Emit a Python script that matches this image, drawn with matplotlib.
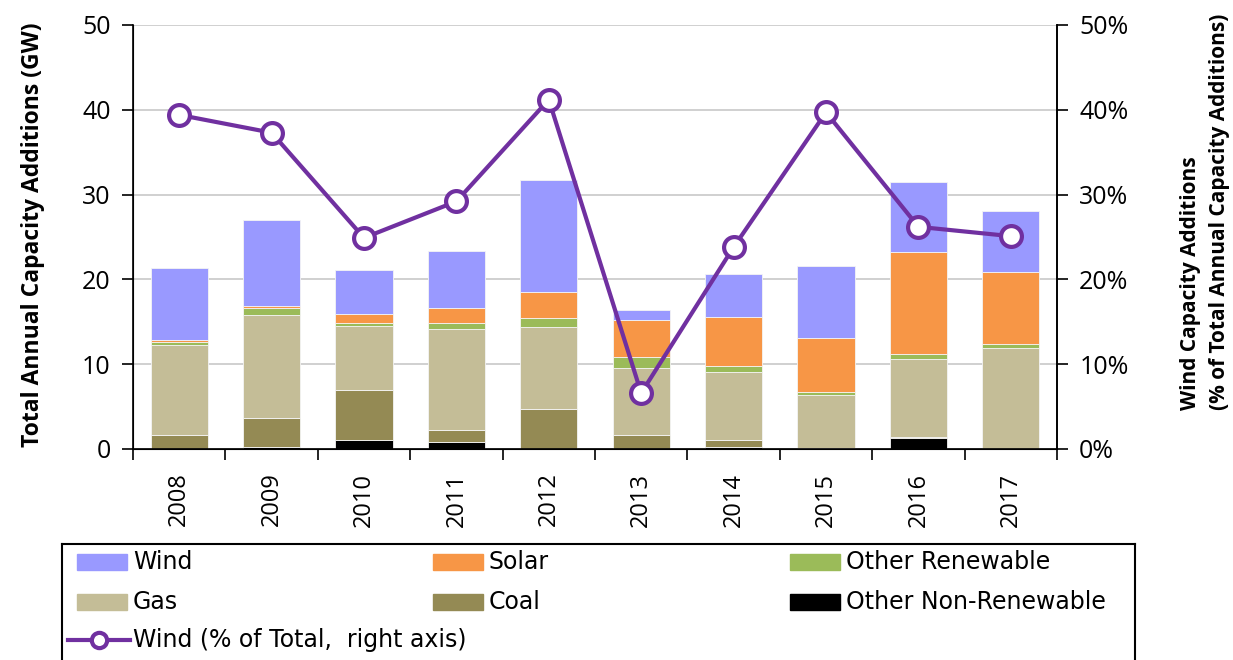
import matplotlib
matplotlib.use("Agg")
import matplotlib.pyplot as plt
import numpy as np
from matplotlib.patches import Rectangle
from matplotlib.lines import Line2D
from matplotlib.ticker import PercentFormatter

years = ["2008", "2009", "2010", "2011", "2012", "2013", "2014", "2015", "2016", "2017"]

# capacity additions, GW (stacked bottom to top)
other_nonrenew = [0.0, 0.2, 1.1, 0.8, 0.0, 0.0, 0.2, 0.0, 1.3, 0.0]
coal = [1.7, 3.5, 5.8, 1.4, 4.7, 1.7, 0.9, 0.1, 0.1, 0.0]
gas = [10.6, 12.1, 7.6, 12.0, 9.7, 7.8, 8.0, 6.3, 9.2, 11.9]
other_renew = [0.3, 0.8, 0.4, 0.7, 1.1, 1.4, 0.7, 0.3, 0.6, 0.5]
solar = [0.2, 0.3, 1.0, 1.7, 3.0, 4.3, 5.8, 6.4, 12.0, 8.5]
wind = [8.5, 10.1, 5.2, 6.8, 13.2, 1.2, 5.0, 8.5, 8.3, 7.2]

# wind share of total additions, %
wind_share = [39.4, 37.3, 24.9, 29.2, 41.2, 6.6, 23.8, 39.7, 26.2, 25.1]

series = [
    ("Other Non-Renewable", other_nonrenew, "#000000"),
    ("Coal", coal, "#948A54"),
    ("Gas", gas, "#C4BD97"),
    ("Other Renewable", other_renew, "#9BBB59"),
    ("Solar", solar, "#F79646"),
    ("Wind", wind, "#9999FF"),
]
line_color = "#7030A0"

plt.rcParams["font.family"] = ["Open Sans", "DejaVu Sans"]

fig = plt.figure(figsize=(12.33, 6.6), dpi=100)
ax = fig.add_axes([133 / 1233, 1 - 449 / 660, (1057 - 133) / 1233, (449 - 25) / 660])

x = np.arange(len(years))
bottom = np.zeros(len(years))
for name, vals, col in series:
    ax.bar(x, vals, 0.62, bottom=bottom, color=col, edgecolor="#f4f4f4",
           linewidth=0.6, zorder=2)
    bottom += np.array(vals)

ax.set_ylim(0, 50)
ax.set_xlim(-0.5, len(years) - 0.5)
ax.set_yticks(range(0, 51, 10))
ax.yaxis.grid(True, color="#c8c8c8", linewidth=1.2, zorder=0)
ax.set_axisbelow(True)
ax.set_xticks(x)
ax.set_xticklabels(years, rotation=90, fontsize=17)
ax.set_xticks(np.arange(-0.5, len(years)), minor=True)
ax.tick_params(axis="x", which="major", length=0, pad=17)
ax.tick_params(axis="x", which="minor", length=8, width=1.2, direction="out")
ax.tick_params(axis="y", length=8, width=1.2, labelsize=18, pad=8)
ax.spines["top"].set_visible(False)
for s in ["left", "bottom", "right"]:
    ax.spines[s].set_linewidth(1.2)
ax.set_ylabel("Total Annual Capacity Additions (GW)", fontsize=16.5,
              fontweight="bold")
ax.yaxis.set_label_coords(-0.095, 0.505)

ax2 = ax.twinx()
ax2.plot(x, wind_share, color=line_color, linewidth=3, marker="o",
         markersize=15, markerfacecolor="white", markeredgecolor=line_color,
         markeredgewidth=3, zorder=5)
ax2.set_ylim(0, 50)
ax2.set_yticks(range(0, 51, 10))
ax2.yaxis.set_major_formatter(PercentFormatter(decimals=0))
ax2.tick_params(axis="y", length=8, width=1.2, labelsize=18, pad=8)
ax2.spines["top"].set_visible(False)
ax2.spines["right"].set_linewidth(1.2)
fig.text(1205 / 1233, 1 - 212 / 660,
         "Wind Capacity Additions\n(% of Total Annual Capacity Additions)",
         rotation=90, ha="center", va="center", multialignment="left",
         fontsize=15, fontweight="bold", linespacing=1.45)

# legend box
lax = fig.add_axes([62 / 1233, 0, (1135 - 62) / 1233, (660 - 544) / 660])
lax.set_xlim(0, 1073)
lax.set_ylim(116, 0)
lax.set_xticks([])
lax.set_yticks([])
lax.spines["bottom"].set_visible(False)
for s in ["top", "left", "right"]:
    lax.spines[s].set_linewidth(1.5)

legend_rows = [
    [("Wind", "#9999FF"), ("Solar", "#F79646"), ("Other Renewable", "#9BBB59")],
    [("Gas", "#C4BD97"), ("Coal", "#948A54"), ("Other Non-Renewable", "#000000")],
]
col_x = [15, 371, 728]
row_y = [18, 58]
for r, row in enumerate(legend_rows):
    for c, (name, col) in enumerate(row):
        lax.add_patch(Rectangle((col_x[c], row_y[r] - 8), 50, 16, color=col))
        lax.text(col_x[c] + 56, row_y[r], name, fontsize=17, va="center",
                 family=["DejaVu Sans"])
lax.add_line(Line2D([6, 68], [96, 96], color=line_color, linewidth=3))
lax.plot([37], [96], marker="o", markersize=11, markerfacecolor="white",
         markeredgecolor=line_color, markeredgewidth=3)
lax.text(71, 96, "Wind (% of Total,  right axis)", fontsize=17, va="center",
         family=["DejaVu Sans"])

fig.savefig("out.png", dpi=100)
